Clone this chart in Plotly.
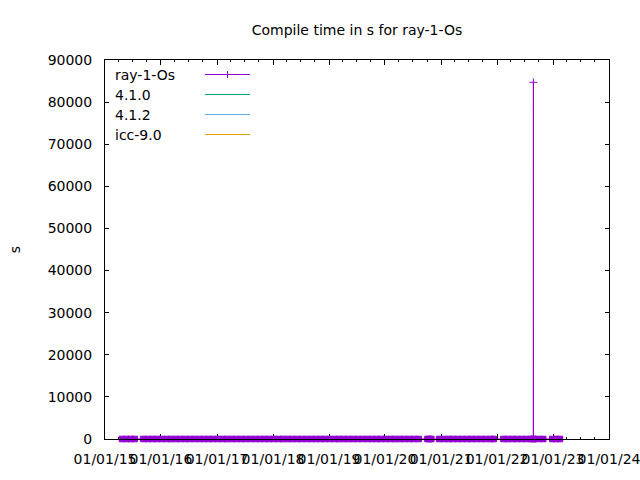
import plotly.graph_objects as go

# ---- data ----
title_text = "Compile time in s for ray-1-Os"
series_names = ["ray-1-Os", "4.1.0", "4.1.2", "icc-9.0"]
series_colors = ["#9400d3", "#009e73", "#56b4e9", "#e69f00"]

ray_dates = [
    "2015-04-22", "2015-05-20", "2015-06-17", "2015-07-13",
    "2015-09-07", "2015-10-07", "2015-11-07", "2015-12-07",
    "2016-01-07", "2016-02-07", "2016-03-07", "2016-04-07", "2016-05-07", "2016-06-07",
    "2016-07-07", "2016-08-07", "2016-09-07", "2016-10-07", "2016-11-07", "2016-12-07",
    "2017-01-07", "2017-02-07", "2017-03-07", "2017-04-07", "2017-05-07", "2017-06-07",
    "2017-07-07", "2017-08-07", "2017-09-07", "2017-10-07", "2017-11-07", "2017-12-07",
    "2018-01-07", "2018-02-07", "2018-03-07", "2018-04-07", "2018-05-07", "2018-06-07",
    "2018-07-07", "2018-08-07", "2018-09-07", "2018-10-07", "2018-11-07", "2018-12-07",
    "2019-01-07", "2019-02-07", "2019-03-07", "2019-04-07", "2019-05-07", "2019-06-07",
    "2019-07-07", "2019-08-07", "2019-09-07", "2019-10-07", "2019-11-07", "2019-12-07",
    "2020-01-07", "2020-02-07", "2020-03-07", "2020-04-07", "2020-05-07", "2020-06-07",
    "2020-07-07", "2020-08-07",
    "2020-10-04", "2020-10-17", "2020-10-29",
    "2020-12-20", "2021-01-20", "2021-02-20", "2021-03-20", "2021-04-20", "2021-05-20",
    "2021-06-20", "2021-07-20", "2021-08-20", "2021-09-20", "2021-10-20", "2021-11-20",
    "2021-12-10",
    "2022-02-11", "2022-03-11", "2022-04-11", "2022-05-11", "2022-06-11", "2022-07-11",
    "2022-08-11", "2022-08-25", "2022-08-26", "2022-08-27", "2022-09-27", "2022-10-29",
    "2022-12-27", "2023-01-21", "2023-02-15",
]
ray_values = [
    1.3, 1.2, 1.3, 1.2,
    1.2, 1.3, 1.2, 1.2,
    1.3, 1.2, 1.2, 1.3, 1.2, 1.2,
    1.3, 1.2, 1.2, 1.3, 1.2, 1.2,
    1.2, 1.3, 1.2, 1.2, 1.3, 1.2,
    1.2, 1.3, 1.2, 1.2, 1.3, 1.2,
    1.2, 1.3, 1.2, 1.2, 1.3, 1.2,
    1.2, 1.3, 1.2, 1.2, 1.3, 1.2,
    1.2, 1.3, 1.2, 1.2, 1.3, 1.2,
    1.2, 1.3, 1.2, 1.2, 1.3, 1.2,
    1.2, 1.3, 1.2, 1.2, 1.3, 1.2,
    1.2, 1.3,
    1.2, 1.3, 1.2,
    1.2, 1.3, 1.2, 1.2, 1.3, 1.2,
    1.2, 1.3, 1.2, 1.2, 1.3, 1.2,
    1.2,
    1.2, 1.3, 1.2, 1.2, 1.3, 1.2,
    1.2, 1.3, 84700, 1.2, 1.3, 1.2,
    1.2, 1.3, 1.2,
]

x_range = ["2015-01-01", "2024-01-01"]
y_range = [0, 90000]

FONT = "DejaVu Sans"
purple = series_colors[0]

# dense runs of points render as a solid band, isolated high points as '+'
symbols = ["square" if v < 1000 else "cross-thin" for v in ray_values]

fig = go.Figure()
fig.add_trace(go.Scatter(
    x=ray_dates, y=ray_values, name=series_names[0], mode="lines+markers",
    line=dict(color=purple, width=1),
    marker=dict(symbol=symbols, size=5.6, color=purple, opacity=1,
                line=dict(color=purple, width=1)),
    cliponaxis=False, showlegend=False,
))
for name, col in zip(series_names[1:], series_colors[1:]):
    fig.add_trace(go.Scatter(x=[], y=[], name=name, mode="lines",
                             line=dict(color=col, width=1), showlegend=False))

# plot area geometry (pixels)
L, R, T, B = 105, 609, 60, 439
W, H = R - L, B - T

def px_x(p):
    return (p - L) / W

def px_y(p):
    return (B - p) / H

# manual gnuplot-style key: text left, sample right
key_rows_y = [74.5, 94.5, 114.5, 134.5]
for name, col, yy in zip(series_names, series_colors, key_rows_y):
    fig.add_annotation(x=px_x(113), y=px_y(yy), xref="paper", yref="paper",
                       text=name, showarrow=False, xanchor="left", yanchor="middle",
                       font=dict(family=FONT, size=14, color="black"))
    fig.add_shape(type="line", xref="paper", yref="paper",
                  x0=px_x(205), x1=px_x(250), y0=px_y(yy), y1=px_y(yy),
                  line=dict(color=col, width=1))
fig.add_shape(type="path", xref="paper", yref="paper",
              xsizemode="pixel", ysizemode="pixel",
              xanchor=px_x(227.5), yanchor=px_y(key_rows_y[0]),
              path="M-3.5,0H3.5M0,-3.5V3.5", line=dict(color=purple, width=1))
# bottom border drawn in front of the data (ticks stay behind)
fig.add_shape(type="line", xref="paper", yref="paper", layer="above",
              x0=0, x1=1, y0=px_y(B + 0.5), y1=px_y(B + 0.5),
              line=dict(color="black", width=1))

fig.update_layout(
    width=640, height=480,
    margin=dict(l=L, r=640 - R, t=T, b=480 - B, autoexpand=False),
    paper_bgcolor="white", plot_bgcolor="white",
    font=dict(family=FONT, size=14, color="black"),
    title=dict(text=title_text, x=0.5, xref="paper", y=1 - 30 / 480, yref="container",
               xanchor="center", yanchor="middle",
               font=dict(family=FONT, size=14, color="black")),
    showlegend=False,
)
fig.update_xaxes(
    type="date", range=x_range, tick0="2015-01-01", dtick="M12",
    tickformat="%m/%d/%y", tickangle=0, automargin=False, ticklabeloverflow="allow",
    ticks="inside", ticklen=5, tickwidth=1, tickcolor="black", layer="below traces",
    minor=dict(dtick="M3", ticks="inside", ticklen=2, tickwidth=1, tickcolor="black"),
    showline=True, linecolor="black", linewidth=1, mirror="ticks",
    showgrid=False, zeroline=False, ticklabelstandoff=7,
    tickfont=dict(family=FONT, size=14, color="black"),
)
fig.update_yaxes(
    range=y_range, dtick=10000, tickformat="d", automargin=False,
    ticks="inside", ticklen=4, tickwidth=1, tickcolor="black", layer="below traces",
    showline=True, linecolor="black", linewidth=1, mirror="ticks",
    showgrid=False, zeroline=False, ticklabelstandoff=9,
    tickfont=dict(family=FONT, size=14, color="black"),
    title=dict(text="s", standoff=23, font=dict(family=FONT, size=14, color="black")),
)

fig.write_html("out.html", config={"displayModeBar": False},
               post_script="document.body.style.margin='0';document.body.style.padding='0';")
